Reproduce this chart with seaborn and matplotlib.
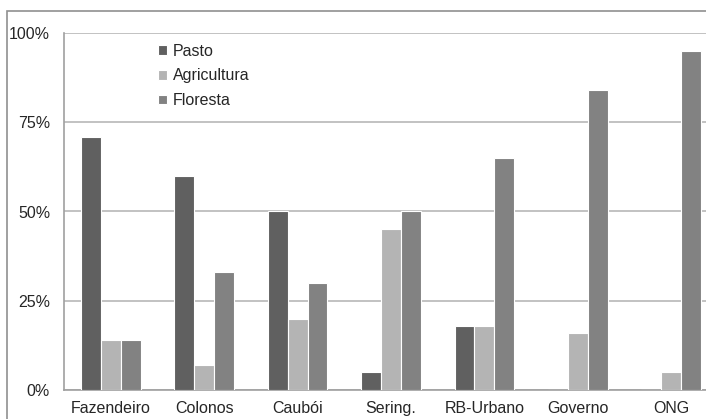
import pandas as pd
import numpy as np
import seaborn as sns
import matplotlib.pyplot as plt
from matplotlib.patches import Rectangle

sns.set_style('white')
plt.rcParams['font.family'] = ['Liberation Sans', 'DejaVu Sans']

categorias = ['Fazendeiro', 'Colonos', 'Caubói', 'Sering.', 'RB-Urbano', 'Governo', 'ONG']
series = ['Pasto', 'Agricultura', 'Floresta']
pasto = [71, 60, 50, 5, 18, 0, 0]
agricultura = [14, 7, 20, 45, 18, 16, 5]
floresta = [14, 33, 30, 50, 65, 84, 95]
cores = ['#606060', '#b4b4b4', '#828282']

df = pd.DataFrame({'Categoria': categorias * 3,
                   'Uso': np.repeat(series, len(categorias)),
                   'Valor': pasto + agricultura + floresta})

fig = plt.figure(figsize=(7.06, 4.19), dpi=100)
W, H = 706, 419
ax = fig.add_axes([64 / W, (H - 390) / H, (718 - 64) / W, 357 / H])

sns.barplot(data=df, x='Categoria', y='Valor', hue='Uso', palette=cores,
            width=0.64, edgecolor='white', linewidth=0.8, ax=ax, zorder=3)

ax.set_ylim(0, 100)
ax.set_xlim(-0.5, len(categorias) - 0.5)
ax.set_yticks([0, 25, 50, 75, 100])
ax.set_yticklabels(['0%', '25%', '50%', '75%', '100%'])
ax.yaxis.grid(True, color='#b8b8b8', linewidth=1.2, zorder=0)
ax.set_axisbelow(True)
ax.set_xlabel('')
ax.set_ylabel('')
ax.tick_params(axis='y', length=0, pad=10, labelsize=11.5)
ax.tick_params(axis='x', length=0, pad=8, labelsize=11.5)
for s in ['top', 'right']:
    ax.spines[s].set_visible(False)
for s in ['left', 'bottom']:
    ax.spines[s].set_color('#a0a0a0')
    ax.spines[s].set_linewidth(1.2)

ax.legend(loc='upper left', bbox_to_anchor=(0.122, 1.01), frameon=False,
          fontsize=11.5, handlelength=0.55, handleheight=0.55, handletextpad=0.35,
          labelspacing=0.6)

fig.patches.append(Rectangle((7 / W, -0.1), 1.2, (H - 11) / H + 0.1,
                             transform=fig.transFigure, fill=False,
                             edgecolor='#909090', linewidth=1.2))

plt.savefig('out.png', dpi=100)
